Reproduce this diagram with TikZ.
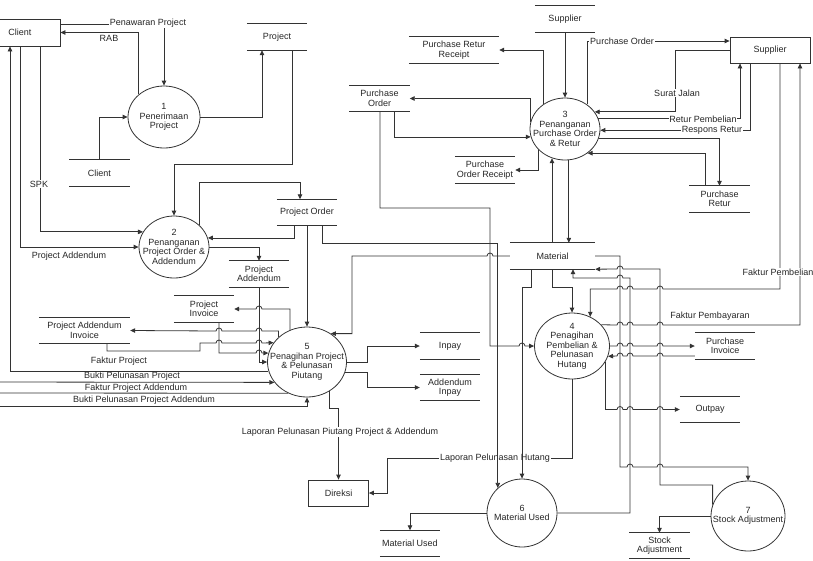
\documentclass[tikz,border=0pt]{standalone}
\usepackage{fontspec}
\setmainfont{Liberation Sans}
\usetikzlibrary{arrows.meta}
\usetikzlibrary{shapes.geometric}

% little bridges where a flow crosses another one
\newcommand{\hopr}{arc[start angle=180,end angle=0,radius=3pt]}
\newcommand{\hopl}{arc[start angle=0,end angle=180,radius=3pt]}

\begin{document}
\begin{tikzpicture}[x=1pt,y=-1pt,
		font=\fontsize{9}{9.5}\selectfont, text=black!85,
		line/.style={draw=black!80, line width=0.8pt},
		flow/.style={line, -{Triangle[length=5pt,width=4.5pt]}},
		proc/.style={ellipse, draw=black!80, line width=0.8pt, inner sep=-15pt, align=center},
		entity/.style={rectangle, draw=black!80, line width=0.8pt, minimum height=27pt, align=center},
		store/.style={minimum width=60pt, minimum height=26pt, inner sep=0pt, align=center},
		lbl/.style={fill=white, inner sep=1pt}]
		\useasboundingbox (0,0) rectangle (813,560);

		% external entities
		\node[entity, minimum width=80pt] (client) at (20,32.5) {Client};
		\node[entity, minimum width=80pt, minimum height=26pt] (supplier) at (770,50) {Supplier};
		\node[entity, minimum width=60pt, minimum height=26pt] (direksi) at (338.5,493) {Direksi};

		% processes
		\node[proc, minimum width=72pt, minimum height=62pt] (p1) at (164,117) {1\\Penerimaan\\Project};
		\node[proc, minimum width=70pt, minimum height=62pt] (p2) at (174,247) {2\\Penanganan\\Project Order \&\\Addendum};
		\node[proc, minimum width=70pt, minimum height=62pt] (p3) at (565,129) {3\\Penanganan\\Purchase Order\\\& Retur};
		\node[proc, minimum width=75pt, minimum height=66pt] (p4) at (572,346) {4\\Penagihan\\Pembelian \&\\Pelunasan\\Hutang};
		\node[proc, minimum width=79pt, minimum height=70pt] (p5) at (307,362) {5\\Penagihan Project\\\& Pelunasan\\Piutang};
		\node[proc, minimum width=70pt, minimum height=68pt] (p6) at (522,513) {6\\Material Used};
		\node[proc, minimum width=74pt, minimum height=70pt] (p7) at (748,516) {7\\Stock Adjustment};

		% data stores
		\node[store] (sclient) at (99.5,173) {Client};
		\node[store] (sproj) at (277,37) {Project};
		\node[store] (sporder) at (307,212.5) {Project Order};
		\node[store] (spadd) at (259,274) {Project\\Addendum};
		\node[store] (spinv) at (204,309) {Project\\Invoice};
		\node[store, minimum width=91pt] (spainv) at (84.5,330.5) {Project Addendum\\Invoice};
		\node[store] (sinpay) at (450,346) {Inpay};
		\node[store] (saddinpay) at (450,387.5) {Addendum\\Inpay};
		\node[store] (ssupp) at (565,19) {Supplier};
		\node[store, minimum width=90pt] (sprr) at (454,50) {Purchase Retur\\Receipt};
		\node[store] (spo) at (379.5,98.5) {Purchase\\Order};
		\node[store] (spor) at (485,170) {Purchase\\Order Receipt};
		\node[store] (spret) at (719.5,199) {Purchase\\Retur};
		\node[store, minimum width=85pt] (smat) at (552.5,256) {Material};
		\node[store] (spurinv) at (725,346) {Purchase\\Invoice};
		\node[store] (soutpay) at (710,409.5) {Outpay};
		\node[store] (smatused) at (410,543.5) {Material Used};
		\node[store, minimum height=25pt] (sstockadj) at (659.5,545.5) {Stock\\Adjustment};
		\foreach \s in {sclient,sproj,sporder,spadd,spinv,spainv,sinpay,saddinpay,ssupp,sprr,spo,spor,spret,smat,spurinv,soutpay,smatused,sstockadj}
			\draw[line] (\s.north west) -- (\s.north east) (\s.south west) -- (\s.south east);

		% free ends on the left border
		\coordinate (inBPP) at (-12,382);
		\coordinate (outFPA) at (-12,393);
		\coordinate (inBPPA) at (-12,406);

		% process 1 and 2
		\draw[flow] (client.east |- 0,24) -| (p1.north);
		\draw[flow] (p1.138) |- (client.east);
		\draw[flow] (sclient.north) |- (p1.west);
		\draw[flow] (p1.east) -| (sproj.south -| 262,0);
		\draw[flow] (sproj.south -| 292,0) |- (174,164) -- (p2.north);
		\draw[flow] (p2.41) |- (300,182) -- (sporder.north -| 300,0);
		\draw[flow] (sporder.south -| 294,0) |- (p2.15);
		\draw[flow] (p2.east) -| (spadd.north);
		\draw[flow] (client.south -| 40,0) |- (p2.154);
		\draw[flow] (client.south) |- (p2.west);

		% process 5
		\draw[flow] (p5.193) -| (client.south -| 10,0);
		\draw[flow] (inBPP) -- (p5.212);
		\draw[flow] (p5.239) -- (outFPA);
		\draw[flow] (inBPPA) -| (p5.south);
		\draw[flow] (sporder.south) -- (p5.north);
		\draw[flow] (smat.west) -- (493,256) \hopl -- (352,256) |- (p5.50);
		\draw[flow] (p5.118) -- (p5.118 |- 0,309) -- (262,309) \hopl -- (spinv.east);
		\draw[flow] (p5.139) -- (p5.139 |- 0,331) -- (262,331) \hopl -- (222,331) \hopl -- (spainv.east);
		\draw[flow] (spainv.south -| 107,0) -- (107,351) -- (200,351) -- (200,343) -- (216,343) \hopr -- (256,343) \hopr -- (p5.150);
		\draw[flow] (spinv.south -| 219,0) -- (219,353) -- (256,353) \hopr -- (p5.167);
		\draw[flow] (spadd.south) |- (p5.west);
		\draw[flow] (p5.east) -| (sinpay.west -| 367,0) -- (sinpay.west);
		\draw[flow] (p5.-16) -| (saddinpay.west -| 367,0) -- (saddinpay.west);
		\draw[flow] (p5.-53) -- (p5.-53 |- 0,408) -| (direksi.north);
		\draw[flow] (p4.south) |- (387,458) |- (direksi.east);
		\node[lbl] (lLPH) at (495,458) {Laporan Pelunasan Hutang};

		% process 3
		\draw[flow] (ssupp.south) -- (p3.north);
		\draw[flow] (p3.48) |- (supplier.west |- 0,41);
		\draw[flow] (supplier.west) -- (675,50) |- (p3.30);
		\draw[flow] (p3.17) -| (supplier.south -| 740,0);
		\draw[flow] (supplier.south -| 750,0) |- (p3.-2);
		\draw[flow] (p3.-15) -| (spret.north);
		\draw[flow] (spret.north -| 705,0) |- (p3.-47);
		\draw[flow] (p3.130) |- (sprr.east);
		\draw[flow] (p3.168) |- (spo.east);
		\draw[flow] (spo.south -| 394,0) |- (p3.193);
		\draw[flow] (p3.218) |- (spor.east);
		\draw[flow] (p3.246 |- smat.north) -- (p3.246);
		\draw[flow] (p3.-83) -- (p3.-83 |- smat.north);

		% process 4, 6 and 7
		\draw[flow] (spo.south -| 380,0) |- (490,208) -- (490,346) -- (519,346) \hopr -- (p4.west);
		\draw[flow] (sporder.south -| 322,0) |- (p6.134 |- 0,243) -- (p6.134);
		\draw[flow] (smat.south -| 552,0) |- (572,287) -- (p4.north);
		\draw[flow] (smat.south -| 531,0) |- (522,287) -- (p6.north);
		\draw[flow] (supplier.south -| 780,0) -- (780,289) -- (663,289) \hopl -- (633,289) \hopl -- (623,289) \hopl -- (p4.58 |- 0,289) -- (p4.58);
		\draw[flow] (p4.36) -- (617,325) \hopr -- (627,325) \hopr -- (657,325) \hopr -- (800,325) -- (supplier.south -| 800,0);
		\draw[flow] (p4.east) -- (617,346) \hopr -- (627,346) \hopr -- (657,346) \hopr -- (spurinv.west);
		\draw[flow] (spurinv.west |- 0,356) -- (663,356) \hopl -- (633,356) \hopl -- (623,356) \hopl -- (p4.-16);
		\draw[flow] (p4.-25) -- (p4.-25 |- soutpay.west) -- (617,409.5) \hopr -- (627,409.5) \hopr -- (657,409.5) \hopr -- (soutpay.west);
		\draw[flow] (smat.east) -| (620,467) -- (627,467) \hopr -- (657,467) \hopr -| (p7.north);
		\draw[flow] (p7.162) |- (660,485) -- (660,269) -- (623,269) \hopl -- (smat.south east);
		\draw[flow] (p6.east) -| (630,278) -- (623,278) \hopl -| (smat.south -| 573,0);
		\draw[flow] (p7.west) -| (sstockadj.north);
		\draw[flow] (p6.west) -| (smatused.north);

		% flow labels
		\node[lbl] (lPen) at (148,23) {Penawaran Project};
		\node (lRAB) at (109,38) {RAB};
		\node[lbl] (lSPK) at (39,184) {SPK};
		\node (lPAdd) at (69,256) {Project Addendum};
		\node (lFP) at (119,361) {Faktur Project};
		\node (lBPP) at (132,376) {Bukti Pelunasan Project};
		\node (lFPA) at (136,388) {Faktur Project Addendum};
		\node (lBPPA) at (144,400) {Bukti Pelunasan Project Addendum};
		\node[lbl] (lLPP) at (340,432) {Laporan Pelunasan Piutang Project \& Addendum};
		\node[lbl] (lPO) at (622,41) {Purchase Order};
		\node[lbl] (lSJ) at (677,93) {Surat Jalan};
		\node[lbl, inner sep=0.5pt] (lRP) at (703,119) {Retur Pembelian};
		\node[lbl, inner sep=0.5pt] (lRR) at (712,130.5) {Respons Retur};
		\node[lbl] (lFPb) at (778,272) {Faktur Pembelian};
		\node (lFPy) at (710,316) {Faktur Pembayaran};
	\end{tikzpicture}
\end{document}
